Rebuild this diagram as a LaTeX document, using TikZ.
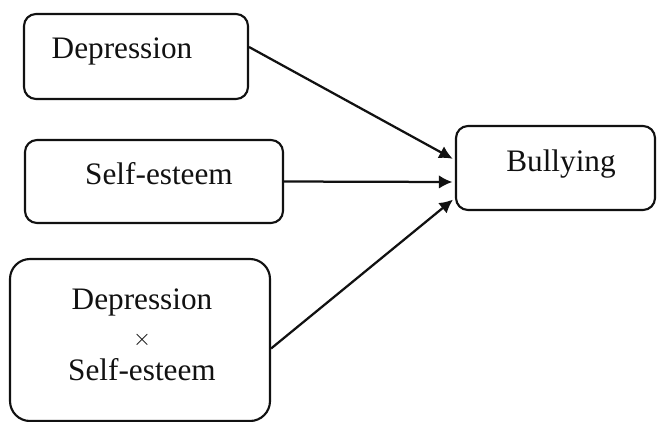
\documentclass[tikz,border=0pt]{standalone}
\usepackage{fontspec}
\setmainfont{Liberation Serif}
\usepackage{xcolor}
\usepackage{tikz}
\usetikzlibrary{arrows.meta}
\definecolor{ink}{HTML}{111111}
\tikzset{
  box/.style={draw=ink, line width=0.85pt, rounded corners=4.8pt, inner sep=0pt},
  bigbox/.style={box, rounded corners=8pt},
  lab/.style={text=ink, font=\fontsize{12.5}{15}\selectfont, inner sep=0pt},
  link/.style={draw=ink, line width=0.9pt, -{Latex[length=5.4pt,width=5.4pt]}, shorten >=1pt},
}
\begin{document}
\begin{tikzpicture}[x=0.4pt,y=-0.4pt]
  \useasboundingbox (0,0) rectangle (657,421);
  % predictors
  \node[box, minimum width=224*0.4pt, minimum height=85*0.4pt] (dep) at (136,56.5) {};
  \node[lab] (deplab) at (122,51) {Depression};
  \node[box, minimum width=258*0.4pt, minimum height=83*0.4pt] (self) at (154,181.5) {};
  \node[lab] (selflab) at (159,174) {Self-esteem};
  \node[bigbox, minimum width=260*0.4pt, minimum height=162*0.4pt] (inter) at (140,340) {};
  \node[lab, align=center] (interlab) at (142,335) {Depression\\[-0.9pt]{\small$\times$}\\[-0.9pt]Self-esteem};
  % outcome
  \node[box, minimum width=199*0.4pt, minimum height=84*0.4pt] (bull) at (555.5,168) {};
  \node[lab] (bulllab) at (561,164) {Bullying};
  % paths
  \draw[link] ([yshift=3.8pt]dep.east) -- ([yshift=3.2pt]bull.west);
  \draw[link] (self.east) -- ([yshift=-5.6pt]bull.west);
  \draw[link] ([yshift=-3.4pt]inter.east) -- ([yshift=-12pt]bull.west);
\end{tikzpicture}
\end{document}
